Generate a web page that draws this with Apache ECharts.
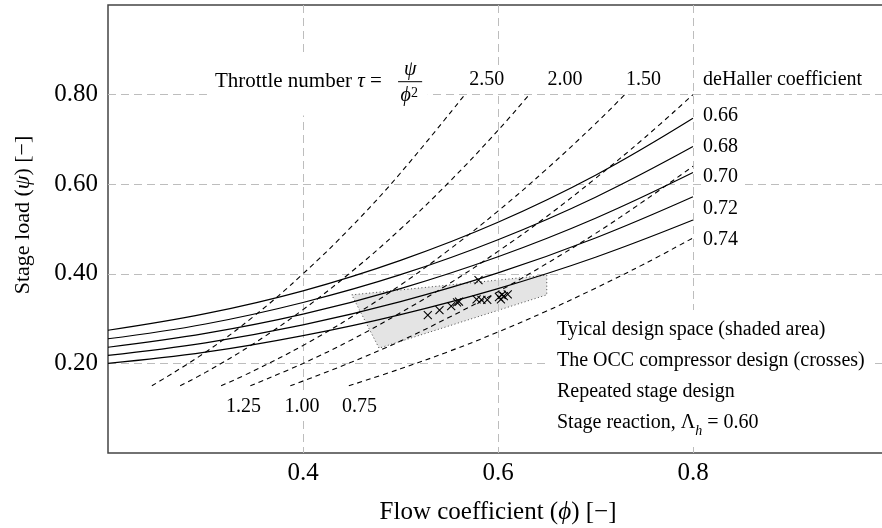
<!DOCTYPE html>
<html><head><meta charset="utf-8">
<script src="https://cdn.jsdelivr.net/npm/echarts@6/dist/echarts.min.js"></script>
<style>html,body{margin:0;padding:0;background:#fff}#c{width:882px;height:528px}</style>
</head><body><div id="c"></div>
<script>
// ---------------- data ----------------
const phiGrid = [0.2, 0.3, 0.4, 0.5, 0.6, 0.7, 0.8];
const deHallerLabels = ['0.66', '0.68', '0.70', '0.72', '0.74'];
const psiDeHaller066 = [0.274, 0.311, 0.362, 0.430, 0.515, 0.620, 0.747];
const psiDeHaller068 = [0.255, 0.288, 0.336, 0.398, 0.476, 0.571, 0.684];
const psiDeHaller070 = [0.236, 0.267, 0.310, 0.367, 0.438, 0.524, 0.626];
const psiDeHaller072 = [0.218, 0.246, 0.286, 0.338, 0.402, 0.480, 0.572];
const psiDeHaller074 = [0.200, 0.225, 0.262, 0.309, 0.367, 0.437, 0.520];

const throttleLabels = ['2.50', '2.00', '1.50', '1.25', '1.00', '0.75'];
const throttle250 = [[0.245,0.150],[0.30,0.225],[0.35,0.306],[0.40,0.400],[0.45,0.506],[0.50,0.625],[0.566,0.800]];
const throttle200 = [[0.274,0.150],[0.30,0.180],[0.35,0.245],[0.40,0.320],[0.45,0.405],[0.50,0.500],[0.55,0.605],[0.60,0.720],[0.632,0.800]];
const throttle150 = [[0.316,0.150],[0.35,0.184],[0.40,0.240],[0.45,0.304],[0.50,0.375],[0.55,0.454],[0.60,0.540],[0.65,0.634],[0.70,0.735],[0.730,0.800]];
const throttle125 = [[0.346,0.150],[0.40,0.200],[0.45,0.253],[0.50,0.313],[0.55,0.378],[0.60,0.450],[0.65,0.528],[0.70,0.613],[0.75,0.703],[0.80,0.800]];
const throttle100 = [[0.387,0.150],[0.45,0.203],[0.50,0.250],[0.55,0.303],[0.60,0.360],[0.65,0.423],[0.70,0.490],[0.75,0.563],[0.80,0.640]];
const throttle075 = [[0.447,0.150],[0.50,0.188],[0.55,0.227],[0.60,0.270],[0.65,0.317],[0.70,0.368],[0.75,0.422],[0.80,0.480]];

const designSpace = [[0.450,0.353],[0.650,0.397],[0.650,0.353],[0.478,0.234]];
const occDesign = [[0.528,0.308],[0.540,0.319],[0.552,0.328],[0.558,0.336],[0.560,0.338],[0.580,0.386],
                   [0.578,0.343],[0.583,0.342],[0.589,0.342],[0.601,0.348],[0.603,0.343],[0.604,0.353],
                   [0.606,0.350],[0.610,0.354]];

const xTickLabels = ['0.4', '0.6', '0.8'];
const yTickLabels = ['0.20', '0.40', '0.60', '0.80'];

// ---------------- chart ----------------
const FONT = '"Liberation Serif", "DejaVu Serif", serif';
const chart = echarts.init(document.getElementById('c'), null, {renderer: 'canvas'});

function rs(size, italic) {
  return {fontFamily: FONT, fontSize: size, color: '#000', fontStyle: italic ? 'italic' : 'normal'};
}
const baseRich = {
  n: rs(20), i: rs(20, true), i21: rs(21, true),
  sub: Object.assign(rs(14, true), {lineHeight: 18, verticalAlign: 'bottom'}),
  sup: Object.assign(rs(14), {lineHeight: 14, verticalAlign: 'top'}),
  nb: Object.assign(rs(20), {lineHeight: 31}), ib: Object.assign(rs(20, true), {lineHeight: 31})
};

function annot(coord, text, align, opts) {
  return {
    value: coord,
    label: Object.assign({
      show: true, position: 'inside', formatter: text, align: align, verticalAlign: 'middle',
      fontFamily: FONT, fontSize: 20, color: '#000', opacity: 1, textBorderWidth: 0,
      backgroundColor: '#fff', padding: [3, 3], rich: baseRich
    }, opts || {})
  };
}

const bgAnnots = [
  annot([0.3015, 0.8225], 'Throttle number {i21|τ} =', 'left', {padding: [17, 46, 24, 8], fontSize: 21}),
  annot([0.5884, 0.834], throttleLabels[0], 'center'),
  annot([0.6687, 0.834], throttleLabels[1], 'center'),
  annot([0.7492, 0.834], throttleLabels[2], 'center'),
  annot([0.3390, 0.104], throttleLabels[3], 'center'),
  annot([0.3990, 0.104], throttleLabels[4], 'center'),
  annot([0.4580, 0.104], throttleLabels[5], 'center'),
  annot([0.8083, 0.834], 'deHaller coefficient', 'left', {padding: [3, 6, 3, 2]}),
  annot([0.8083, 0.752], deHallerLabels[0], 'left', {padding: [4, 3, 4, 2]}),
  annot([0.8083, 0.683], deHallerLabels[1], 'left', {padding: [4, 3, 4, 2]}),
  annot([0.8083, 0.616], deHallerLabels[2], 'left', {padding: [4, 3, 4, 2]}),
  annot([0.8083, 0.545], deHallerLabels[3], 'left', {padding: [4, 3, 4, 2]}),
  annot([0.8083, 0.476], deHallerLabels[4], 'left', {padding: [4, 3, 4, 2]}),
  annot([0.6523, 0.172],
    '{nb|Tyical design space (shaded area)}\n{nb|The OCC compressor design (crosses)}\n{nb|Repeated stage design}\n{nb|Stage reaction, Λ}{sub|h}{nb| = 0.60}',
    'left', {padding: [4, 6, 4, 8], lineHeight: 31})
];

const fracAnnots = [
  annot([0.5100, 0.855], '{i|ψ}', 'center', {backgroundColor: 'transparent', padding: 0}),
  annot([0.5090, 0.797], '{i|ϕ}{sup|2}', 'center', {backgroundColor: 'transparent', padding: 0})
];

function pairs(ys) { return phiGrid.map((p, i) => [p, ys[i]]); }

const series = [];
// shaded design space
series.push({
  type: 'custom', z: -1, silent: true,
  data: designSpace,
  renderItem: function (params, api) {
    if (params.dataIndex !== 0) return null;
    const pts = designSpace.map(p => api.coord(p));
    return {type: 'polygon', shape: {points: pts},
      style: {fill: '#e4e4e4', stroke: '#444', lineWidth: 1, lineDash: [1, 2.5]}};
  }
});
// deHaller curves
[psiDeHaller066, psiDeHaller068, psiDeHaller070, psiDeHaller072, psiDeHaller074].forEach((ys, k) => {
  series.push({type: 'line', name: 'DH ' + deHallerLabels[k], data: pairs(ys), smooth: 0.4, symbol: 'none',
    lineStyle: {color: '#000', width: 1.2}, z: 3, silent: true});
});
// throttle lines
[throttle250, throttle200, throttle150, throttle125, throttle100, throttle075].forEach((d, k) => {
  series.push({type: 'line', name: 'tau ' + throttleLabels[k], data: d, smooth: 0.4, symbol: 'none',
    lineStyle: {color: '#000', width: 1.1, type: [5, 4]}, z: 3, silent: true});
});
// OCC crosses
series.push({type: 'scatter', data: occDesign, symbol: 'path://M0 0L10 10M10 0L0 10', symbolSize: 8,
  itemStyle: {color: 'rgba(0,0,0,0)', borderColor: '#000', borderWidth: 1.1, opacity: 1}, z: 4, silent: true});
// annotations with white background
series.push({type: 'scatter', data: bgAnnots, symbolSize: 1, itemStyle: {color: 'rgba(0,0,0,0)', opacity: 1}, z: 10, silent: true});
// fraction bar
series.push({type: 'line', data: [[0.4975, 0.8288], [0.5222, 0.8288]], symbol: 'none',
  lineStyle: {color: '#000', width: 1}, z: 11, silent: true});
series.push({type: 'scatter', data: fracAnnots, symbolSize: 1, itemStyle: {color: 'rgba(0,0,0,0)', opacity: 1}, z: 12, silent: true});

const option = {
  animation: false,
  backgroundColor: '#fff',
  grid: {left: 108, top: 5, right: -6, bottom: 75, show: true, borderColor: '#444', borderWidth: 1.5,
    backgroundColor: 'transparent', containLabel: false, outerBoundsMode: 'none'},
  xAxis: {
    type: 'value', min: 0.2, max: 1.0, interval: 0.2,
    axisLine: {show: false}, axisTick: {show: false},
    axisLabel: {margin: 8, fontFamily: FONT, fontSize: 25, color: '#000',
      formatter: v => { const s = v.toFixed(1); return xTickLabels.includes(s) ? s : ''; }},
    splitLine: {show: true, showMinLine: false, showMaxLine: false,
      lineStyle: {color: '#bdbdbd', width: 1, type: [8, 5]}},
    name: 'Flow coefficient ({i|ϕ}) [−]', nameLocation: 'middle', nameGap: 47,
    nameTextStyle: {fontFamily: FONT, fontSize: 25, color: '#000',
      rich: {i: {fontFamily: FONT, fontSize: 25, fontStyle: 'italic', color: '#000'}}}
  },
  yAxis: {
    type: 'value', min: 0, max: 1.0, interval: 0.2,
    axisLine: {show: false}, axisTick: {show: false},
    axisLabel: {margin: 10, fontFamily: FONT, fontSize: 25, color: '#000',
      formatter: v => { const s = v.toFixed(2); return yTickLabels.includes(s) ? s : ''; }},
    splitLine: {show: true, showMinLine: false, showMaxLine: false,
      lineStyle: {color: '#bdbdbd', width: 1, type: [8, 5]}},
    name: 'Stage load ({i|ψ}) [−]', nameLocation: 'middle', nameGap: 74,
    nameTextStyle: {fontFamily: FONT, fontSize: 22, color: '#000', padding: [0, 0, 0, 28],
      rich: {i: {fontFamily: FONT, fontSize: 22, fontStyle: 'italic', color: '#000'}}}
  },
  series: series
};
chart.setOption(option);
</script>
</body></html>
